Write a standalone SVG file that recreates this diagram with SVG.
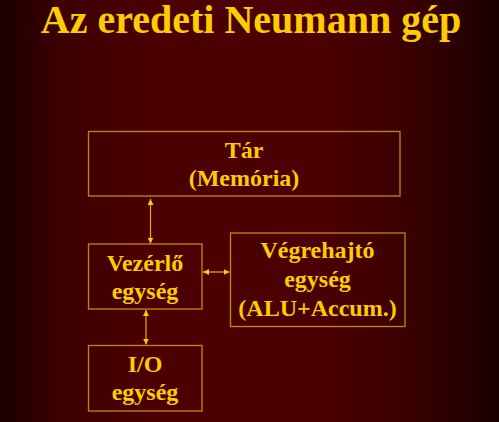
<svg xmlns="http://www.w3.org/2000/svg" width="499" height="422" viewBox="0 0 499 422">
<defs>
<linearGradient id="bg" x1="0" y1="0" x2="1" y2="0">
<stop offset="0" stop-color="#1c0000"/>
<stop offset="0.12" stop-color="#3c0000"/>
<stop offset="0.3" stop-color="#4b0000"/>
<stop offset="0.65" stop-color="#4a0000"/>
<stop offset="0.85" stop-color="#360000"/>
<stop offset="1" stop-color="#1a0000"/>
</linearGradient>
<marker id="ah" viewBox="0 0 6 6" refX="6" refY="3" markerWidth="6" markerHeight="6" markerUnits="userSpaceOnUse" orient="auto-start-reverse">
<path d="M0,0 L6,3 L0,6 Z" fill="#ffcc00"/>
</marker>
<style>
.box{fill:none;stroke:#c08a00;stroke-width:1.3}
.t{font-family:"Liberation Serif","Times New Roman",serif;font-weight:bold;fill:#ffcc00;text-anchor:middle}
.bt{font-size:24px}
.conn{stroke:#e0b000;stroke-width:1.2;fill:none;marker-start:url(#ah);marker-end:url(#ah)}
</style>
</defs>
<rect width="499" height="422" fill="url(#bg)"/>
<text class="t" x="251" y="33" font-size="40">Az eredeti Neumann gép</text>
<g id="tar">
<rect class="box" x="88.5" y="131.5" width="311.5" height="64.5"/>
<text class="t bt" x="244" y="158">Tár</text>
<text class="t bt" x="244" y="186">(Memória)</text>
</g>
<g id="vezerlo">
<rect class="box" x="88.5" y="244" width="113.5" height="65"/>
<text class="t bt" x="145" y="271">Vezérlő</text>
<text class="t bt" x="145" y="299">egység</text>
</g>
<g id="vegrehajto">
<rect class="box" x="230.5" y="233" width="174.5" height="93.5"/>
<text class="t bt" x="317.5" y="258">Végrehajtó</text>
<text class="t bt" x="317.5" y="287">egység</text>
<text class="t bt" x="317.5" y="316">(ALU+Accum.)</text>
</g>
<g id="io">
<rect class="box" x="88.5" y="345.5" width="113.5" height="65.5"/>
<text class="t bt" x="145" y="372">I/O</text>
<text class="t bt" x="145" y="400">egység</text>
</g>
<g id="connectors">
<line class="conn" x1="150.5" y1="199" x2="150.5" y2="243.5"/>
<line class="conn" x1="203" y1="272" x2="229.5" y2="272"/>
<line class="conn" x1="146" y1="310" x2="146" y2="344.5"/>
</g>
</svg>
